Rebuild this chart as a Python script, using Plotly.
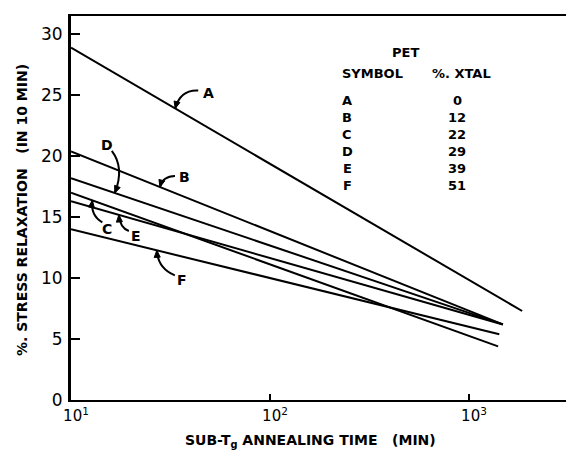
import numpy as np
import plotly.graph_objects as go

# PET samples: symbol, crystallinity, and the fitted straight lines (semilog)
symbols = ["A", "B", "C", "D", "E", "F"]
xtal_pct = ["0", "12", "22", "29", "39", "51"]
t_start = [10, 10, 10, 10, 10, 10]                     # min
t_end = [1850, 1480, 1400, 1480, 1480, 1420]           # min
relax_start = [28.9, 20.4, 17.0, 18.2, 16.3, 14.0]     # % stress relaxation
relax_end = [7.3, 6.2, 4.4, 6.2, 6.2, 5.4]

# where each curved label arrow touches its line (annealing time, min)
arrow_tip_t = [33.4, 28.0, 12.8, 16.6, 17.4, 27.0]
# pixel offsets from the arrow tip: tail, bezier control point, letter centre
arrow_tail = [(23, -18), (15, -11), (10, 22), (-3, -42), (10, 16), (18, 25)]
arrow_ctrl = [(5, -19), (3, -11), (-2, 15), (10, -25), (1, 13), (1, 18)]
label_off = [(33, -16), (25, -10), (15, 29), (-8, -48), (17, 21), (25, 30)]

W, H = 566, 453
ML, MR, MT, MB = 71, 0, 16, 53
PW, PH = W - ML - MR, H - MT - MB
X_RANGE = [1.0, 1.0 + PW / 199.0]
Y_RANGE = [0.0, 31.5]

FONT = "DejaVu Sans"
INK = "black"


def data_to_px(t, v):
    px = ML + (np.log10(t) - X_RANGE[0]) / (X_RANGE[1] - X_RANGE[0]) * PW
    py = MT + (Y_RANGE[1] - v) / (Y_RANGE[1] - Y_RANGE[0]) * PH
    return px, py


def px_to_paper(px, py):
    return (px - ML) / PW, (MT + PH - py) / PH


def line_value(i, t):
    f = (np.log10(t) - np.log10(t_start[i])) / (np.log10(t_end[i]) - np.log10(t_start[i]))
    return relax_start[i] + f * (relax_end[i] - relax_start[i])


fig = go.Figure()
for i, s in enumerate(symbols):
    fig.add_trace(go.Scatter(
        x=[t_start[i], t_end[i]], y=[relax_start[i], relax_end[i]],
        mode="lines", line=dict(color=INK, width=2), name=s, showlegend=False,
    ))

shapes = []
annotations = []
for i, s in enumerate(symbols):
    tx, ty = data_to_px(arrow_tip_t[i], line_value(i, arrow_tip_t[i]))
    ax, ay = tx + arrow_tail[i][0], ty + arrow_tail[i][1]
    cx, cy = tx + arrow_ctrl[i][0], ty + arrow_ctrl[i][1]
    p0 = px_to_paper(ax, ay)
    pc = px_to_paper(cx, cy)
    p1 = px_to_paper(tx, ty)
    shapes.append(dict(
        type="path", xref="paper", yref="paper",
        path=f"M {p0[0]:.5f} {p0[1]:.5f} Q {pc[0]:.5f} {pc[1]:.5f} {p1[0]:.5f} {p1[1]:.5f}",
        line=dict(color=INK, width=2),
    ))
    # filled arrowhead aligned with the end tangent of the curve
    d = np.array([tx - cx, ty - cy], dtype=float)
    d /= np.hypot(*d)
    n = np.array([-d[1], d[0]])
    base = np.array([tx, ty]) - 7 * d
    b1 = base + 3 * n
    b2 = base - 3 * n
    q1 = px_to_paper(*b1)
    q2 = px_to_paper(*b2)
    shapes.append(dict(
        type="path", xref="paper", yref="paper",
        path=f"M {p1[0]:.5f} {p1[1]:.5f} L {q1[0]:.5f} {q1[1]:.5f} L {q2[0]:.5f} {q2[1]:.5f} Z",
        line=dict(color=INK, width=1), fillcolor=INK,
    ))
    lx, ly = px_to_paper(tx + label_off[i][0], ty + label_off[i][1])
    annotations.append(dict(
        x=lx, y=ly, xref="paper", yref="paper", text=s, showarrow=False,
        font=dict(family=FONT, size=14, color=INK, weight="bold"),
        xanchor="center", yanchor="middle",
    ))

# composition table in the upper right
def table_text(px, py, text):
    x, y = px_to_paper(px, py)
    annotations.append(dict(
        x=x, y=y, xref="paper", yref="paper", text=text, showarrow=False,
        font=dict(family=FONT, size=13, color=INK, weight="bold"),
        xanchor="center", yanchor="middle",
    ))

table_text(405, 53, "PET")
table_text(372, 73, "SYMBOL")
table_text(461, 73, "%. XTAL")
for i, s in enumerate(symbols):
    table_text(347, 100 + 17 * i, s)
    table_text(457, 100 + 17 * i, xtal_pct[i])

# axis titles
x_title_pos = px_to_paper(310, 441)
annotations.append(dict(
    x=x_title_pos[0], y=x_title_pos[1], xref="paper", yref="paper",
    text="SUB-T<sub>g</sub> ANNEALING TIME\u00a0\u00a0\u00a0(MIN)", showarrow=False,
    font=dict(family=FONT, size=14, color=INK, weight="bold"),
    xanchor="center", yanchor="middle",
))
y_title_pos = px_to_paper(22, 210)
annotations.append(dict(
    x=y_title_pos[0], y=y_title_pos[1], xref="paper", yref="paper",
    text="%. STRESS RELAXATION\u00a0\u00a0\u00a0(IN 10 MIN)", showarrow=False, textangle=-90,
    font=dict(family=FONT, size=14, color=INK, weight="bold"),
    xanchor="center", yanchor="middle",
))

fig.update_layout(
    width=W, height=H,
    margin=dict(l=ML, r=MR, t=MT, b=MB),
    paper_bgcolor="white", plot_bgcolor="white",
    shapes=shapes, annotations=annotations,
    xaxis=dict(
        type="log", range=X_RANGE,
        tickvals=[10, 100, 1000],
        ticktext=["10<sup>1</sup>", "10<sup>2</sup>", "10<sup>3</sup>"],
        ticks="inside", ticklen=6, tickwidth=2, tickcolor=INK,
        showline=True, linecolor=INK, linewidth=2, mirror=True,
        showgrid=False, zeroline=False, ticklabelshift=5, ticklabelstandoff=1,
        tickfont=dict(family=FONT, size=15, color=INK),
    ),
    yaxis=dict(
        range=Y_RANGE, tickvals=[0, 5, 10, 15, 20, 25, 30],
        ticks="inside", ticklen=9, tickwidth=2, tickcolor=INK,
        showline=True, linecolor=INK, linewidth=3,
        showgrid=False, zeroline=False, ticklabelstandoff=2,
        tickfont=dict(family=FONT, size=17, color=INK),
    ),
)

fig.write_html("out.html")
